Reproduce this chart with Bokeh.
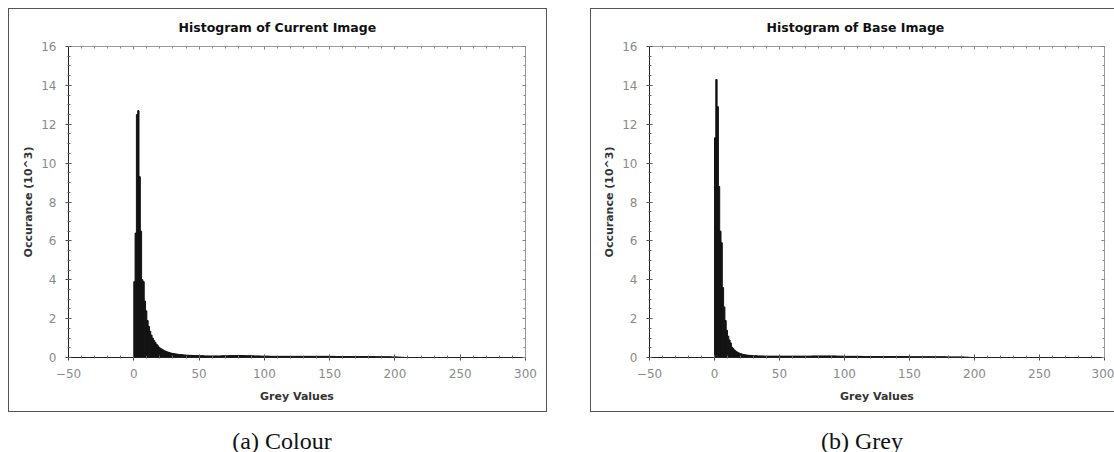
from bokeh.plotting import figure
from bokeh.layouts import row, column
from bokeh.models import Range1d, SingleIntervalTicker, LinearAxis, Div, ColumnDataSource
from bokeh.embed import file_html
from bokeh.resources import INLINE

# ---- data (occurrence in thousands, per grey value starting at 0) ----
colour_title = "Histogram of Current Image"
grey_title = "Histogram of Base Image"
colour_caption = "(a) Colour"
grey_caption = "(b) Grey"
x_label = "Grey Values"
y_label = "Occurance (10^3)"

colour_counts = [
    3.9, 6.4, 12.5, 12.7, 9.3, 6.5, 4.0, 3.9, 2.9, 2.4,
    1.9, 1.6, 1.35, 1.15, 1.0, 0.88, 0.78, 0.68, 0.6, 0.52,
    0.47, 0.43, 0.39, 0.35, 0.32, 0.29, 0.27, 0.25, 0.23, 0.21,
    0.2, 0.19, 0.18, 0.17, 0.16, 0.15, 0.15, 0.14, 0.13, 0.13,
    0.12, 0.12, 0.11, 0.11, 0.11, 0.1, 0.1, 0.1, 0.1, 0.09,
    0.09, 0.09, 0.09, 0.09, 0.08, 0.08, 0.08, 0.08, 0.08, 0.08,
    0.08, 0.08, 0.08, 0.08, 0.08, 0.08, 0.08, 0.09, 0.09, 0.09,
    0.09, 0.09, 0.09, 0.1, 0.1, 0.1, 0.1, 0.1, 0.1, 0.1,
    0.1, 0.1, 0.1, 0.1, 0.1, 0.09, 0.09, 0.09, 0.09, 0.09,
    0.09, 0.09, 0.08, 0.08, 0.08, 0.08, 0.08, 0.07, 0.07, 0.07,
    0.07, 0.07, 0.07, 0.07, 0.06, 0.06, 0.06, 0.06, 0.06, 0.06,
    0.06, 0.06, 0.06, 0.06, 0.06, 0.06, 0.06, 0.06, 0.06, 0.06,
    0.06, 0.06, 0.06, 0.06, 0.06, 0.06, 0.06, 0.06, 0.06, 0.06,
    0.06, 0.06, 0.06, 0.06, 0.06, 0.06, 0.06, 0.06, 0.06, 0.06,
    0.06, 0.06, 0.06, 0.06, 0.06, 0.06, 0.06, 0.06, 0.06, 0.06,
    0.06, 0.06, 0.06, 0.06, 0.05, 0.05, 0.05, 0.05, 0.05, 0.05,
    0.05, 0.05, 0.05, 0.05, 0.05, 0.05, 0.05, 0.05, 0.05, 0.05,
    0.05, 0.05, 0.05, 0.05, 0.05, 0.05, 0.05, 0.05, 0.05, 0.05,
    0.05, 0.05, 0.05, 0.05, 0.05, 0.04, 0.04, 0.04, 0.04, 0.04,
    0.04, 0.04, 0.04, 0.04, 0.04, 0.04, 0.04, 0.03, 0.03, 0.03,
    0.03, 0.03, 0.02, 0.02, 0.02, 0.01, 0.01, 0.0, 0.0, 0.0,
]

grey_counts = [
    11.3, 14.3, 12.9, 8.8, 6.5, 5.9, 3.6, 2.6, 1.9, 1.4,
    1.1, 0.9, 0.75, 0.53, 0.45, 0.38, 0.32, 0.28, 0.24, 0.21,
    0.19, 0.17, 0.15, 0.14, 0.13, 0.12, 0.11, 0.11, 0.1, 0.1,
    0.09, 0.09, 0.09, 0.08, 0.08, 0.08, 0.08, 0.08, 0.07, 0.07,
    0.07, 0.07, 0.07, 0.07, 0.07, 0.07, 0.07, 0.07, 0.07, 0.07,
    0.07, 0.07, 0.07, 0.07, 0.07, 0.07, 0.07, 0.07, 0.07, 0.07,
    0.07, 0.07, 0.07, 0.07, 0.07, 0.07, 0.07, 0.07, 0.07, 0.07,
    0.07, 0.07, 0.07, 0.07, 0.07, 0.08, 0.08, 0.08, 0.08, 0.08,
    0.08, 0.08, 0.08, 0.08, 0.08, 0.08, 0.08, 0.08, 0.08, 0.08,
    0.08, 0.08, 0.08, 0.08, 0.07, 0.07, 0.07, 0.07, 0.07, 0.06,
    0.06, 0.06, 0.06, 0.06, 0.06, 0.06, 0.06, 0.06, 0.06, 0.06,
    0.06, 0.06, 0.06, 0.06, 0.05, 0.05, 0.05, 0.05, 0.05, 0.05,
    0.05, 0.05, 0.05, 0.05, 0.05, 0.05, 0.05, 0.05, 0.05, 0.05,
    0.05, 0.05, 0.05, 0.05, 0.05, 0.05, 0.05, 0.05, 0.05, 0.05,
    0.05, 0.05, 0.05, 0.05, 0.05, 0.05, 0.05, 0.05, 0.05, 0.05,
    0.04, 0.04, 0.04, 0.04, 0.04, 0.04, 0.04, 0.04, 0.04, 0.04,
    0.04, 0.04, 0.04, 0.04, 0.04, 0.04, 0.04, 0.04, 0.04, 0.04,
    0.04, 0.04, 0.04, 0.04, 0.04, 0.04, 0.04, 0.04, 0.03, 0.03,
    0.03, 0.03, 0.03, 0.03, 0.03, 0.03, 0.03, 0.03, 0.03, 0.03,
    0.03, 0.03, 0.02, 0.02, 0.02, 0.01, 0.01, 0.0, 0.0, 0.0,
]

x_start, x_end = -50, 300
y_start, y_end = 0, 16

FIG_H = 404
BOLD = "DejaVu Sans"


def make_panel(title, counts, width, styles, mb_left, mb_right, title_offset):
    bins = list(range(len(counts)))
    src = ColumnDataSource(dict(left=bins, right=[b + 1 for b in bins], top=counts))
    p = figure(width=width, height=FIG_H,
               x_range=Range1d(x_start, x_end), y_range=Range1d(y_start, y_end),
               output_backend="svg", toolbar_location=None, tools="",
               min_border_left=mb_left, min_border_right=mb_right,
               min_border_top=37, min_border_bottom=56,
               background_fill_color="white", border_fill_color="white")
    p.styles = styles
    p.outline_line_color = "#9a9a9a"
    p.xgrid.visible = False
    p.ygrid.visible = False

    p.title.text = title
    p.title.align = "left"
    p.title.vertical_align = "top"
    p.title.offset = title_offset
    p.title.text_font = BOLD
    p.title.text_font_style = "bold"
    p.title.text_font_size = "12.5px"
    p.title.text_color = "#111111"
    p.title.standoff = 19

    p.quad(left="left", right="right", bottom=0, top="top", source=src,
           fill_color="#131313", line_color="#131313", line_width=1)

    xa = p.xaxis[0]
    xa.ticker = SingleIntervalTicker(interval=50, num_minor_ticks=5)
    xa.axis_label = x_label
    ya = p.yaxis[0]
    ya.ticker = SingleIntervalTicker(interval=2, num_minor_ticks=4)
    ya.axis_label = y_label
    for ax in (xa, ya):
        ax.axis_label_text_font = BOLD
        ax.axis_label_text_font_style = "bold"
        ax.axis_label_text_font_size = "11px"
        ax.axis_label_text_color = "#333333"
        ax.major_label_text_font = "DejaVu Sans"
        ax.major_label_text_font_size = "12px"
        ax.major_label_text_color = "#8a8a8a"
        ax.axis_line_color = "#222222"
        ax.major_tick_line_color = "#444444"
        ax.minor_tick_line_color = "#666666"
        ax.major_tick_in = 3
        ax.major_tick_out = 3
        ax.minor_tick_in = 2
        ax.minor_tick_out = 1
    xa.major_label_standoff = 8
    xa.axis_label_standoff = 9
    ya.major_label_standoff = 9
    ya.axis_label_standoff = 3

    top = LinearAxis(ticker=SingleIntervalTicker(interval=50, num_minor_ticks=5))
    right = LinearAxis(ticker=SingleIntervalTicker(interval=2, num_minor_ticks=4))
    for ax in (top, right):
        ax.major_label_text_color = None
        ax.major_label_standoff = 0
        ax.axis_line_color = "#9a9a9a"
        ax.major_tick_line_color = "#777777"
        ax.minor_tick_line_color = "#888888"
        ax.major_tick_in = 3
        ax.major_tick_out = 0
        ax.minor_tick_in = 2
        ax.minor_tick_out = 0
    p.add_layout(top, "above")
    p.add_layout(right, "right")
    return p


def make_caption(text, width, pad_left):
    html = ('<div style="font-family: \'Liberation Serif\'; font-size: 24px; '
            'line-height: 18px; text-align: center; color: #111; '
            f'width: {width}px; padding-top: 20px; padding-left: {pad_left}px; box-sizing: border-box;">'
            f'{text}</div>')
    return Div(text=html, width=width, height=40, margin=0)


left_fig = make_panel(colour_title, colour_counts, 539,
                      {"border": "1px solid #555555"}, 59, 23, 110)
right_fig = make_panel(grey_title, grey_counts, 524,
                       {"border-left": "1px solid #555555", "border-top": "1px solid #555555",
                        "border-bottom": "1px solid #555555"}, 58, 11, 117)

left_col = column(left_fig, make_caption(colour_caption, 539, 9), spacing=0)
right_col = column(right_fig, make_caption(grey_caption, 524, 20), spacing=0)
layout = row(left_col, right_col, spacing=43, margin=(8, 0, 0, 8))

open("out.html", "w").write(file_html(layout, INLINE))
